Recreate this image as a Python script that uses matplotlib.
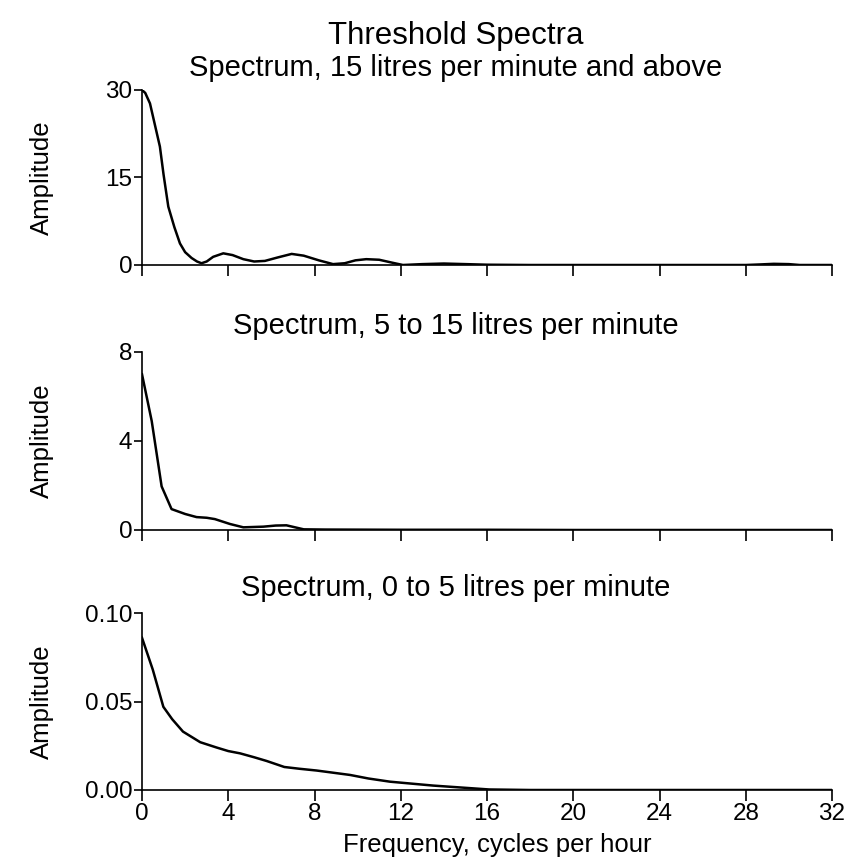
import numpy as np
import matplotlib
matplotlib.use("Agg")
from matplotlib import pyplot as plt

plt.rcParams['font.family'] = ['Liberation Sans', 'DejaVu Sans']

# Spectrum, 15 litres per minute and above
freq_hi = [0.0, 0.15, 0.37, 0.6, 0.83, 1.0, 1.22, 1.5, 1.76, 2.0, 2.3, 2.55, 2.76, 3.0,
           3.3, 3.77, 4.2, 4.7, 5.2, 5.7, 6.3, 6.94, 7.5, 8.2, 8.86, 9.4, 9.9, 10.4,
           11.0, 11.6, 12.1, 13.0, 14.0, 15.0, 16.0, 18.0, 20.0, 24.0, 28.0, 28.7,
           29.3, 30.0, 30.5, 32.0]
amp_hi = [30.0, 29.5, 27.7, 24.0, 20.3, 15.5, 10.0, 6.5, 3.7, 2.2, 1.2, 0.6, 0.3, 0.6,
          1.4, 2.0, 1.7, 1.0, 0.6, 0.7, 1.3, 1.9, 1.6, 0.8, 0.15, 0.3, 0.8, 1.0,
          0.9, 0.4, 0.0, 0.15, 0.25, 0.15, 0.05, 0.0, 0.0, 0.0, 0.0, 0.1,
          0.2, 0.15, 0.0, 0.0]

# Spectrum, 5 to 15 litres per minute
freq_mid = [0.0, 0.45, 0.91, 1.37, 2.0, 2.53, 3.0, 3.38, 4.08, 4.7, 5.63, 6.2, 6.7,
            7.5, 8.5, 12.0, 16.0, 20.0, 24.0, 28.0, 32.0]
amp_mid = [7.0, 4.9, 1.96, 0.94, 0.72, 0.58, 0.55, 0.49, 0.27, 0.12, 0.15, 0.2, 0.21,
           0.03, 0.02, 0.01, 0.01, 0.0, 0.0, 0.0, 0.0]

# Spectrum, 0 to 5 litres per minute
freq_lo = [0.0, 0.5, 0.99, 1.4, 1.9, 2.7, 3.46, 4.0, 4.55, 5.2, 5.78, 6.6, 7.3, 8.1,
           9.65, 10.5, 11.5, 13.5, 16.1, 18.0, 20.0, 24.0, 28.0, 32.0]
amp_lo = [0.086, 0.068, 0.047, 0.040, 0.033, 0.027, 0.024, 0.022, 0.0207, 0.0185,
          0.0164, 0.013, 0.012, 0.011, 0.0085, 0.0065, 0.0047, 0.0025, 0.0003, 0.0,
          0.0, 0.0, 0.0, 0.0]

titles = ["Spectrum, 15 litres per minute and above",
          "Spectrum, 5 to 15 litres per minute",
          "Spectrum, 0 to 5 litres per minute"]
yticks = [[0, 15, 30], [0, 4, 8], [0.0, 0.05, 0.10]]
yticklabels = [["0", "15", "30"], ["0", "4", "8"], ["0.00", "0.05", "0.10"]]
xticks = list(range(0, 33, 4))

fig = plt.figure(figsize=(8.58, 8.59), dpi=100)

# axes boxes in pixels (left, top, right, bottom)
boxes = [(142, 90, 832, 265), (142, 352, 832, 530), (142, 613, 832, 790)]
title_y = [68, 326, 588]
series = [(freq_hi, amp_hi), (freq_mid, amp_mid), (freq_lo, amp_lo)]

W, H = 858, 859
for i, (l, t, r, b) in enumerate(boxes):
    ax = fig.add_axes([l / W, 1 - b / H, (r - l) / W, (b - t) / H])
    x, y = series[i]
    ax.plot(x, y, color='black', linewidth=1.8)
    ax.set_xlim(0, 32)
    ax.set_ylim(yticks[i][0], yticks[i][-1])
    ax.spines['top'].set_visible(False)
    ax.spines['right'].set_visible(False)
    ax.spines['left'].set_linewidth(1.2)
    ax.spines['bottom'].set_linewidth(1.2)
    ax.set_yticks(yticks[i])
    ax.set_yticklabels(yticklabels[i])
    ax.set_xticks(xticks)
    ax.tick_params(axis='y', direction='out', length=6, width=1.2, labelsize=17.5, pad=1)
    ax.tick_params(axis='x', direction='out', length=8, width=1.2, labelsize=17.5, pad=1)
    if i < 2:
        ax.set_xticklabels([])
    else:
        ax.set_xlabel("Frequency, cycles per hour", fontsize=18.5, labelpad=-2)
        ax.xaxis.set_label_coords((497 - l) / (r - l), -0.245)
    ax.set_ylabel("Amplitude", fontsize=18.5)
    ax.yaxis.set_label_coords(-0.127, 0.5)
    fig.text(456 / W, 1 - title_y[i] / H, titles[i], ha='center', va='center',
             fontsize=21)

fig.text(456 / W, 1 - 36 / H, "Threshold Spectra", ha='center', va='center',
         fontsize=22.5)

fig.savefig("out.png", dpi=100, facecolor='white')
